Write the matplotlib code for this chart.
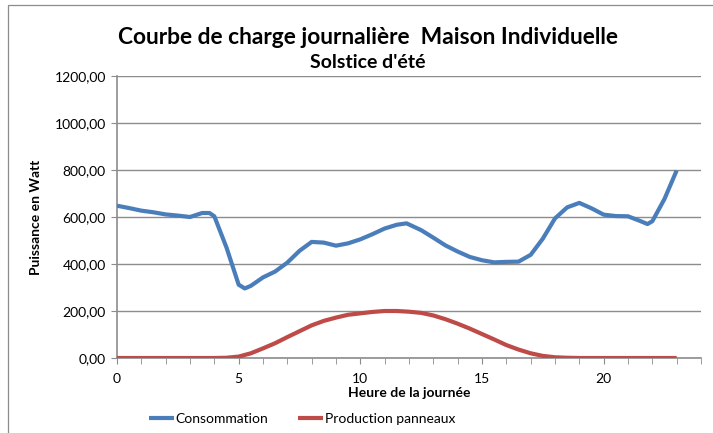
import matplotlib.pyplot as plt
from matplotlib.patches import Rectangle

# heures (pas d'une demi-heure, quelques points en plus)
heures = [0, 0.5, 1, 1.5, 2, 2.5, 3, 3.5, 3.8, 4, 4.5, 5, 5.25, 5.5, 6, 6.5, 7,
          7.5, 8, 8.5, 9, 9.5, 10, 10.5, 11, 11.5, 11.9, 12.5, 13, 13.5, 14,
          14.5, 15, 15.5, 16, 16.5, 17, 17.5, 18, 18.5, 19, 19.5, 20, 20.5, 21,
          21.5, 21.8, 22, 22.5, 23]
consommation = [648, 638, 627, 620, 611, 606, 600, 617, 617, 603, 470, 312, 296,
                307, 343, 368, 406, 456, 494, 491, 478, 488, 505, 527, 551, 567,
                573, 544, 512, 479, 453, 430, 416, 407, 409, 410, 439, 508, 594,
                641, 660, 637, 610, 604, 603, 583, 570, 582, 677, 798]

heures_prod = [0, 1, 2, 3, 4, 4.5, 5, 5.5, 6, 6.5, 7, 7.5, 8, 8.5, 9, 9.5, 10,
               10.5, 11, 11.5, 12, 12.5, 13, 13.5, 14, 14.5, 15, 15.5, 16, 16.5,
               17, 17.5, 18, 18.5, 19, 20, 21, 22, 23]
production = [0, 0, 0, 0, 0, 1, 6, 20, 41, 63, 89, 114, 139, 158, 172, 184, 190,
              196, 200, 200, 197, 192, 181, 165, 146, 125, 102, 79, 55, 36, 20,
              9, 3, 1, 0, 0, 0, 0, 0]

plt.rcParams['font.family'] = ['Lato', 'DejaVu Sans']

fig = plt.figure(figsize=(7.13, 4.33), dpi=100)
ax = fig.add_axes([117 / 713, 1 - 358 / 433, 584 / 713, 282 / 433])

# cadre du graphique
fig.patches.append(Rectangle((8 / 713, -0.1), 1.2, 1 - 5 / 433 + 0.1,
                             transform=fig.transFigure, fill=False,
                             edgecolor='#8c8c8c', linewidth=0.9))

ax.plot(heures, consommation, color='#4a7ebb', linewidth=3, label='Consommation',
        solid_joinstyle='round', solid_capstyle='butt', zorder=3)
ax.plot(heures_prod, production, color='#be4b48', linewidth=3,
        label='Production panneaux', solid_joinstyle='round',
        solid_capstyle='butt', zorder=3)

ax.set_xlim(0, 24)
ax.set_ylim(0, 1200)
ax.set_xticks(range(0, 21, 5))
ax.set_xticks(range(0, 25), minor=True)
ax.set_yticks(range(0, 1201, 200))
ax.set_yticklabels([f'{v},00' for v in range(0, 1201, 200)])

ax.grid(axis='y', color='#8c8c8c', linewidth=1)
ax.set_axisbelow(True)
for s in ['top', 'right']:
    ax.spines[s].set_visible(False)
for s in ['left', 'bottom']:
    ax.spines[s].set_color('#8c8c8c')
    ax.spines[s].set_linewidth(1.2)
ax.tick_params(axis='both', which='both', color='#8c8c8c', length=4,
               labelsize=10, pad=4)
ax.tick_params(axis='x', pad=7)

ax.set_xlabel('Heure de la journée', fontsize=10, fontweight='bold', labelpad=1)
ax.set_ylabel('Puissance en Watt', fontsize=10, fontweight='bold', labelpad=9)

fig.text(368 / 713, 1 - 37 / 433, 'Courbe de charge journalière  Maison Individuelle',
         ha='center', va='center', fontsize=16.4, fontweight='bold')
fig.text(368 / 713, 1 - 63 / 433, "Solstice d'été",
         ha='center', va='center', fontsize=14, fontweight='bold')

fig.legend(loc='center', bbox_to_anchor=(302 / 713, 1 - 419 / 433), ncol=2,
           frameon=False, fontsize=10, handlelength=1.8, handletextpad=0.1,
           columnspacing=2.2)

fig.savefig('out.png', dpi=100)
